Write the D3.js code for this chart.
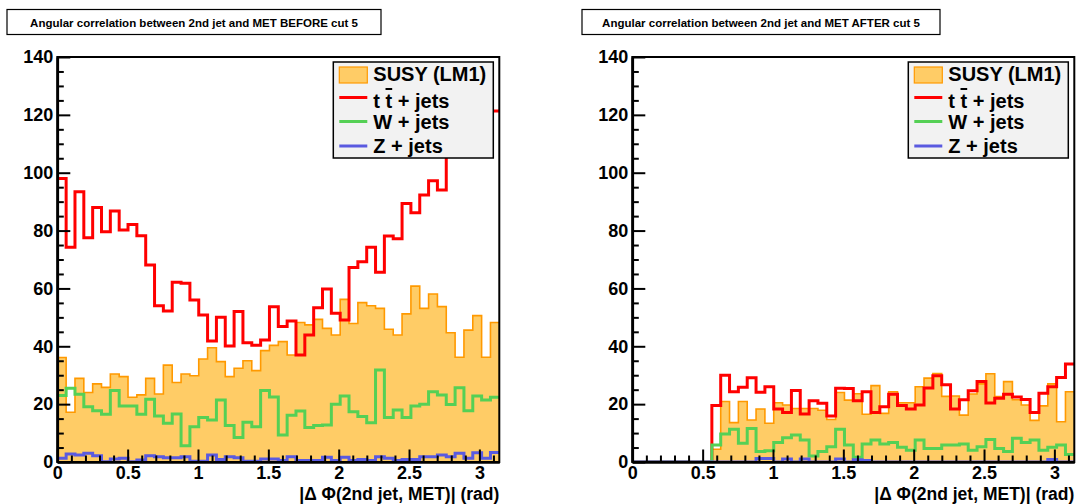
<!DOCTYPE html>
<html>
<head>
<meta charset="utf-8">
<script src="https://cdn.jsdelivr.net/npm/d3@7"></script>
<style>
  html, body { margin: 0; padding: 0; background: #fff; }
  svg { display: block; font-family: "Liberation Sans", Arial, Helvetica, sans-serif; font-weight: bold; }
  .axis path, .axis line { stroke: #000; }
  .axis text { font-size: 18px; font-weight: bold; fill: #000; font-family: "Liberation Sans", Arial, sans-serif; }
</style>
</head>
<body>
<svg id="chart" width="1078" height="504"></svg>
<script>
// histogram binning: |dphi| from 0 to pi in 50 bins
const N_BINS = 50;
const X_MAX = Math.PI;

const yTicks = [0, 20, 40, 60, 80, 100, 120, 140];
const xTicks = [0, 0.5, 1, 1.5, 2, 2.5, 3];

// BEFORE cut 5
const susyBefore = [36.1, 17.2, 28.9, 24.0, 27.0, 25.8, 30.4, 29.5, 22.4, 23.2,
  28.9, 23.5, 33.5, 27.5, 30.4, 29.8, 35.6, 39.5, 34.7, 29.5,
  32.4, 35.0, 31.6, 38.5, 40.3, 41.6, 37.0, 48.2, 47.4, 49.3,
  46.2, 43.9, 56.2, 47.9, 55.1, 54.0, 53.1, 45.9, 43.9, 51.2,
  60.8, 53.1, 58.1, 53.7, 44.7, 36.2, 45.6, 50.6, 36.2, 48.2];
const ttBefore = [98.0, 74.2, 93.4, 77.5, 88.0, 79.6, 86.8, 80.2, 82.1, 78.2,
  68.1, 54.0, 52.2, 62.1, 61.8, 56.0, 50.8, 41.8, 50.0, 40.1,
  52.0, 41.2, 40.4, 42.2, 53.7, 46.8, 48.7, 37.0, 43.9, 53.3,
  59.8, 51.4, 49.1, 67.2, 69.2, 74.2, 65.6, 78.1, 77.2, 89.4,
  86.2, 92.3, 97.2, 94.0, 112, 118, 115, 122, 119, 121.3];
const wBefore = [23.0, 25.5, 23.4, 19.1, 17.7, 16.5, 24.7, 19.4, 19.4, 16.5,
  21.7, 15.9, 13.4, 16.6, 5.6, 12.2, 15.4, 14.5, 21.4, 12.6,
  8.5, 13.7, 12.2, 24.7, 22.5, 9.3, 16.2, 17.6, 11.9, 12.6,
  12.8, 20.0, 22.8, 17.4, 15.7, 13.6, 31.8, 15.4, 18.0, 15.4,
  19.4, 20.0, 24.3, 23.2, 19.9, 25.7, 17.7, 22.8, 21.4, 22.4];
const zBefore = [1.3, 2.8, 2.4, 3.0, 2.2, 0.1, 1.0, 1.3, 0.1, 0.7,
  2.2, 1.8, 1.5, 1.5, 1.8, 0.3, 0.3, 2.4, 0.9, 1.8,
  1.5, 0.3, 0.3, 1.0, 1.0, 0.5, 1.8, 0.5, 0.5, 0.5,
  1.6, 0.5, 1.6, 0.5, 0.9, 0.5, 1.8, 1.3, 0.5, 0.9,
  0.9, 1.8, 1.8, 2.4, 1.8, 3.0, 1.3, 3.2, 1.3, 3.3];

// AFTER cut 5
const susyAfter = [0, 0, 0, 0, 0, 0, 0, 0, 0, 4.4,
  20.9, 13.6, 20.9, 14.5, 18.3, 13.4, 20.5, 19.7, 18.5, 18.5,
  18.5, 17.9, 14.7, 24.0, 21.4, 23.6, 16.5, 26.4, 16.8, 24.3,
  20.5, 20.5, 26.0, 29.0, 30.6, 22.7, 22.8, 16.2, 23.5, 27.0,
  30.5, 22.6, 27.8, 21.5, 19.7, 14.4, 19.4, 27.0, 13.9, 24.3];
const ttAfter = [0, 0, 0, 0, 0, 0, 0, 0, 0, 19.5,
  30.0, 24.3, 25.8, 29.1, 24.1, 26.0, 18.3, 17.1, 24.7, 16.6,
  21.2, 20.3, 15.9, 25.5, 25.4, 21.2, 24.3, 17.1, 19.1, 23.4,
  19.5, 18.3, 19.7, 25.6, 29.8, 26.7, 18.3, 21.5, 24.6, 27.8,
  20.4, 22.0, 23.4, 22.5, 21.6, 17.1, 23.8, 26.0, 29.2, 33.9];
const wAfter = [0, 0, 0, 0, 0, 0, 0, 0, 0, 5.9,
  9.7, 11.3, 6.5, 11.6, 3.6, 3.9, 6.7, 8.4, 9.3, 7.6,
  2.1, 3.6, 5.3, 11.3, 5.9, 1.6, 6.2, 7.6, 6.2, 6.7,
  5.1, 4.1, 7.6, 4.7, 4.7, 5.9, 5.9, 6.2, 4.1, 5.3,
  7.8, 4.7, 3.6, 8.2, 6.7, 7.6, 4.1, 5.1, 5.9, 2.6];
const zAfter = [0, 0, 0, 0, 0, 0, 0, 0, 0, 0,
  0, 0, 0, 0, 1.2, 1.2, 0, 1.0, 0, 1.0,
  0, 0, 0, 1.0, 0, 0.8, 0.5, 0, 0, 0,
  0, 0, 0, 0, 0, 0, 0, 0, 0, 0,
  0, 0, 0, 0, 0, 0, 0, 0.9, 0, 0];

const legendLabels = ['SUSY (LM1)', 'tt', 'W + jets', 'Z + jets'];

const COL = {
  susyFill: '#ffcc66', susyLine: '#ff9900',
  tt: '#ff0000', w: '#55d055', z: '#5a5ae0'
};

const panels = [
  { left: 57.3, title: 'Angular correlation between 2nd jet and MET BEFORE cut 5', titleW: 374,
    susy: susyBefore, tt: ttBefore, w: wBefore, z: zBefore },
  { left: 632.3, title: 'Angular correlation between 2nd jet and MET AFTER cut 5', titleW: 358,
    susy: susyAfter, tt: ttAfter, w: wAfter, z: zAfter }
];

const svg = d3.select('#chart');
const PW = 442, TOP = 57, BOTTOM = 462;
const edges = d3.range(N_BINS + 1).map(i => i * X_MAX / N_BINS);

panels.forEach((p, pi) => drawPanel(p, pi));

function stepPoints(vals) {
  const pts = vals.map((v, i) => [edges[i], v]);
  pts.push([edges[N_BINS], vals[N_BINS - 1]]);
  return pts;
}

function drawPanel(p, pi) {
  const x = d3.scaleLinear().domain([0, X_MAX]).range([p.left, p.left + PW]);
  const y = d3.scaleLinear().domain([0, 140]).range([BOTTOM, TOP]);
  const g = svg.append('g');

  // title box
  const tx = p.left - 50.3;
  g.append('rect')
    .attr('x', tx).attr('y', 9.5).attr('width', p.titleW).attr('height', 25)
    .attr('fill', '#fff').attr('stroke', '#000').attr('stroke-width', 1.2);
  g.append('text')
    .attr('x', tx + p.titleW / 2).attr('y', 26.5)
    .attr('text-anchor', 'middle')
    .style('font-size', '11.5px')
    .text(p.title);

  // clip to frame
  const clipId = 'clip' + pi;
  svg.append('defs').append('clipPath').attr('id', clipId)
    .append('rect').attr('x', p.left).attr('y', TOP).attr('width', PW).attr('height', BOTTOM - TOP);

  const hg = g.append('g').attr('clip-path', `url(#${clipId})`);

  const area = d3.area().curve(d3.curveStepAfter)
    .x(d => x(d[0])).y0(y(0)).y1(d => y(d[1]));
  const line = d3.line().curve(d3.curveStepAfter)
    .x(d => x(d[0])).y(d => y(d[1]));

  hg.append('path').attr('d', area(stepPoints(p.susy)))
    .attr('fill', COL.susyFill).attr('stroke', 'none');
  hg.append('path').attr('d', line(stepPoints(p.susy)))
    .attr('fill', 'none').attr('stroke', COL.susyLine).attr('stroke-width', 1.6);
  hg.append('path').attr('d', line(stepPoints(p.tt)))
    .attr('fill', 'none').attr('stroke', COL.tt).attr('stroke-width', 3);
  hg.append('path').attr('d', line(stepPoints(p.w)))
    .attr('fill', 'none').attr('stroke', COL.w).attr('stroke-width', 3);
  hg.append('path').attr('d', line(stepPoints(p.z)))
    .attr('fill', 'none').attr('stroke', COL.z).attr('stroke-width', 3);

  // frame
  g.append('rect')
    .attr('x', p.left).attr('y', TOP).attr('width', PW).attr('height', BOTTOM - TOP)
    .attr('fill', 'none').attr('stroke', '#000').attr('stroke-width', 2);

  // y axis: major + minor ticks pointing inward
  const yMinor = d3.range(0, 141, 5).filter(v => v % 20 !== 0);
  g.append('g').attr('class', 'axis').attr('transform', `translate(${p.left},0)`)
    .call(d3.axisLeft(y).tickValues(yMinor).tickSizeInner(-6.5).tickSizeOuter(0).tickFormat(''))
    .call(a => a.selectAll('line').attr('stroke-width', 2));
  g.append('g').attr('class', 'axis').attr('transform', `translate(${p.left},0)`)
    .call(d3.axisLeft(y).tickValues(yTicks).tickSizeInner(-13).tickSizeOuter(0).tickPadding(4).tickFormat(d3.format('d')))
    .call(a => a.select('.domain').attr('stroke-width', 2.6))
    .call(a => a.selectAll('line').attr('stroke-width', 2));

  // x axis
  const xMinor = d3.range(1, 32).map(i => i / 10).filter(v => Math.abs(v * 2 - Math.round(v * 2)) > 1e-6);
  g.append('g').attr('class', 'axis').attr('transform', `translate(0,${BOTTOM})`)
    .call(d3.axisBottom(x).tickValues(xMinor).tickSizeInner(-6.5).tickSizeOuter(0).tickFormat(''))
    .call(a => a.selectAll('line').attr('stroke-width', 2));
  g.append('g').attr('class', 'axis').attr('transform', `translate(0,${BOTTOM})`)
    .call(d3.axisBottom(x).tickValues(xTicks).tickSizeInner(-12.5).tickSizeOuter(0).tickPadding(4).tickFormat(d3.format('')))
    .call(a => a.select('.domain').attr('stroke-width', 2.6))
    .call(a => a.selectAll('line').attr('stroke-width', 2));

  // x title
  g.append('text')
    .attr('x', p.left + PW).attr('y', 500)
    .attr('text-anchor', 'end')
    .style('font-size', '17.5px')
    .text('|\u0394 \u03A6(2nd jet, MET)| (rad)');

  drawLegend(g, p.left + PW);
}

function drawLegend(g, right) {
  const lx = right - 166, ly = 62, lw = 160, lh = 96;
  g.append('rect').attr('x', lx).attr('y', ly).attr('width', lw).attr('height', lh)
    .attr('fill', '#f2f2f2').attr('stroke', '#000').attr('stroke-width', 1.5);
  const sx = lx + 6, sw = 28, textX = lx + 40;

  g.append('rect').attr('x', sx).attr('y', ly + 5).attr('width', sw).attr('height', 16)
    .attr('fill', COL.susyFill).attr('stroke', COL.susyLine).attr('stroke-width', 1.2);
  g.append('text').attr('x', textX).attr('y', ly + 19).style('font-size', '20px').text(legendLabels[0]);

  const rows = [
    { col: COL.tt, ys: 35.5, yt: 46 },
    { col: COL.w, ys: 59.5, yt: 67 },
    { col: COL.z, ys: 84, yt: 91 }
  ];
  rows.forEach((r, i) => {
    g.append('line').attr('x1', sx).attr('x2', sx + sw)
      .attr('y1', ly + r.ys).attr('y2', ly + r.ys)
      .attr('stroke', r.col).attr('stroke-width', 3);
    const t = g.append('text').attr('x', textX).attr('y', ly + r.yt).style('font-size', '20px');
    if (i === 0) {
      t.append('tspan').text('t ');
      t.append('tspan').style('text-decoration', 'overline').text('t');
      t.append('tspan').text(' + jets');
    } else {
      t.text(legendLabels[i + 1]);
    }
  });
}
</script>
</body>
</html>
